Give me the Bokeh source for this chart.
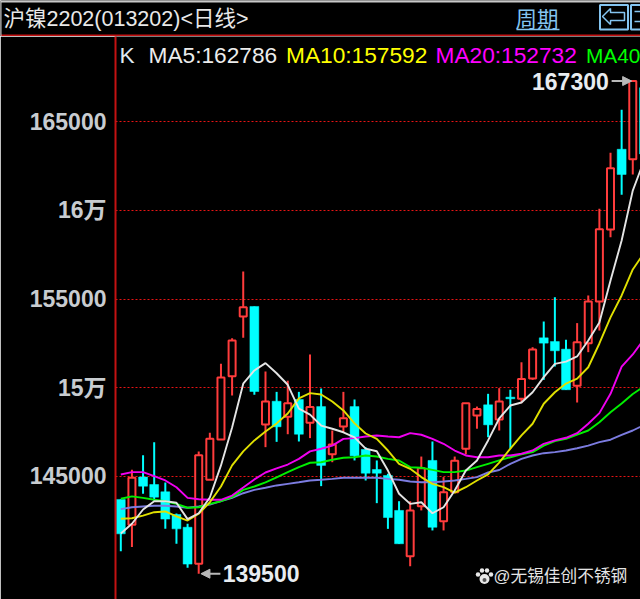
from bokeh.plotting import figure
from bokeh.layouts import column
from bokeh.models import Label, FixedTicker, Span, Arrow, NormalHead, BasicTickFormatter
from bokeh.core.properties import value
from bokeh.embed import file_html
from bokeh.resources import INLINE

# ---- data ----
title_text = "沪镍2202(013202)<日线>"
period_text = "周期"
watermark = "@无锡佳创不锈钢"
tick_values = [145000, 150000, 155000, 160000, 165000]
tick_labels = {150000: "15万", 160000: "16万"}

up = [0,1,0,0,0,0,0,1,1,1,1,1,0,1,0,1,0,1,0,1,1,0,0,0,0,0,1,1,0,1,1,1,1,0,1,0,1,1,0,0,0,1,1,1,1,0,1,0]
highs = [143690,145360,146190,146920,144650,142900,142320,146400,147450,151340,152790,156550,154580,150910,149760,150390,
         149760,151870,149950,147580,149760,149330,146640,145890,145140,143590,143590,146110,146960,144950,146110,149120,
         148930,149650,149970,149880,151430,152280,153730,155100,152700,153640,155200,160090,163250,165680,167300,167050]
body_tops = [143690,144910,144950,144530,144120,142840,142120,146190,147110,150570,152660,154540,154580,149220,149230,149120,
             149330,148900,148930,146790,148270,148930,146510,145380,145040,143070,143070,145450,145890,144100,145870,149120,
             148800,149030,149220,149460,150480,152150,152810,152600,152170,152560,154860,158940,162380,163450,167300,166920]
body_bottoms = [141750,142260,144440,143820,142580,142030,140040,140060,144800,147070,150640,154010,149780,147920,147790,148350,
                147370,148020,145610,146240,147810,146150,145170,145170,142670,141190,140490,143310,142120,142460,144100,146550,
                148430,147900,148200,149370,149370,150510,152510,152080,149880,150100,152510,154860,158920,162030,162890,163190]
lows = [140770,141000,144010,143630,142030,141190,139830,139500,144800,147070,149560,152810,149600,146640,146940,147370,
        146960,147150,144440,145790,147450,145890,144760,143480,142030,141190,139920,143070,141940,141940,144100,146230,
        147680,147200,147580,146560,149120,150440,150440,151190,149880,149160,152000,153220,158490,160880,162030,162250]

ma5 = [141770,142320,143120,143590,143590,143500,142580,142910,143800,145610,147750,150220,150970,151380,150810,150160,
       148810,148480,147860,147680,147480,147190,146560,146410,145320,144010,143440,143530,142910,143250,144190,145320,
       145890,147020,148260,148990,149160,149740,150590,151340,151470,151760,152660,153680,156050,158300,161120,162786]
ma10 = [142600,142630,142780,142970,143010,142730,142500,142880,143530,144420,145610,146400,147020,147520,147980,148540,
        149390,149690,149610,149220,148710,147980,147410,147110,146450,145700,145420,144950,144570,144380,144070,144380,
        144760,145100,145770,146560,147300,147960,149090,149740,150230,150510,151150,152490,153960,155200,156670,157592]
ma20 = [145100,145230,145230,145000,144760,144380,143780,143700,143670,143670,143910,144360,144820,145210,145440,145660,
        145980,146400,146550,146730,147110,147150,147240,147300,147240,147200,147430,147340,147110,146830,146450,146170,
        146070,146070,146170,146170,146270,146450,146830,147020,147170,147430,147960,148560,149650,151190,151870,152732]
ma40 = [143730,143860,143780,143670,143590,143440,143220,143250,143440,143590,143820,144230,144420,144650,144930,145230,
        145510,145760,145790,145930,146040,146070,146170,146110,145980,145890,145510,145480,145360,145230,145230,145320,
        145510,145700,145890,146070,146230,146360,146730,146980,147110,147350,147580,148050,148610,149100,149640,150060]
ma60 = [143140,143250,143290,143330,143330,143290,143220,143290,143400,143590,143780,144040,144230,144350,144480,144570,
        144660,144760,144800,144850,144910,144910,144910,144910,144850,144800,144700,144660,144660,144700,144760,144850,
        144950,145210,145350,145700,145980,146170,146300,146360,146450,146580,146730,146920,147060,147330,147580,147890]

legend_items = [("K", "#dfe8f0", 119, "22.7px"), ("MA5:162786", "#ececec", 148, "22.7px"),
                ("MA10:157592", "#ffff00", 285.5, "22.7px"), ("MA20:152732", "#ff00ff", 435, "22.7px"),
                ("MA40", "#00ff00", 585.5, "20.8px")]
peak_label = "167300"
trough_label = "139500"

# ---- styling ----
RED = "#ff3c3c"
CYAN = "#00ffff"
FRAME_RED = "#c41212"
BLUE = "#84c4f0"
LATIN_CJK = "Liberation Sans, Noto Sans CJK SC"

PX0, PX_STEP = 120.3, 11.13
PRICE_AT_0, PRICE_PER_PX = 171845.0, 56.43


def X(px):
    return (px - PX0) / PX_STEP


def Y(py):
    return PRICE_AT_0 - PRICE_PER_PX * py


HEADER_H = 36
W, H = 640, 599

# ---- header strip ----
header = figure(width=W, height=HEADER_H, x_range=(0, W), y_range=(HEADER_H, 0),
                toolbar_location=None, output_backend="svg", min_border=0, frame_align=False,
                background_fill_color="black", border_fill_color="black", outline_line_color=None)
header.axis.visible = False
header.grid.visible = False
header.segment([0], [1], [W], [1], line_color="#c8c8c8", line_width=2)
header.segment([0], [35], [W], [35], line_color=FRAME_RED, line_width=2)
header.segment([0.5], [0], [0.5], [HEADER_H], line_color="#c8c8c8", line_width=1)
header.text([3], [18.5], text=[title_text], text_font=value(LATIN_CJK), text_font_size="21.5px",
            text_color="#e8e8e8", text_baseline="middle")
header.text([515], [17], text=[period_text], text_font=value("Noto Sans CJK SC"), text_font_size="21.5px",
            text_color=BLUE, text_baseline="middle")
header.segment([516], [29], [559], [29], line_color=BLUE, line_width=1.5)
header.quad(left=[599.5], right=[627.5], top=[4.5], bottom=[29], fill_color=None, line_color=BLUE, line_width=2)
header.quad(left=[630.5], right=[660], top=[4.5], bottom=[29], fill_color=None, line_color=BLUE, line_width=2)
header.patch([602, 610, 610, 624, 624, 610, 610], [16, 8, 12, 12, 20, 20, 24],
             fill_color=None, line_color=BLUE, line_width=1.5)
header.segment([634], [11], [640], [11], line_color=BLUE, line_width=1.5)
header.segment([634], [21], [640], [21], line_color=BLUE, line_width=1.5)

# ---- main chart ----
LEFT = 115
p = figure(width=W, height=H - HEADER_H, x_range=(X(LEFT), X(W)), y_range=(Y(H), Y(HEADER_H)),
           toolbar_location=None, output_backend="svg", frame_align=False,
           min_border_left=LEFT, min_border_right=0, min_border_top=0, min_border_bottom=0,
           background_fill_color="black", border_fill_color="black", outline_line_color=None)
p.xaxis.visible = False
p.xgrid.visible = False
ax = p.yaxis[0]
ax.ticker = FixedTicker(ticks=tick_values)
ax.formatter = BasicTickFormatter(use_scientific=False)
ax.major_label_overrides = tick_labels
ax.major_label_text_font = LATIN_CJK
ax.major_label_text_font_size = "23px"
ax.major_label_text_font_style = "bold"
ax.major_label_text_color = "#c8ccd0"
ax.major_label_standoff = 9
ax.major_tick_line_color = None
ax.major_tick_out = 0
ax.minor_tick_line_color = None
ax.axis_line_color = FRAME_RED
ax.axis_line_width = 2
p.ygrid.ticker = FixedTicker(ticks=tick_values)
p.ygrid.grid_line_color = "#e81414"
p.ygrid.grid_line_dash = "2 2"
p.ygrid.grid_line_width = 1.2

idx = list(range(len(highs)))
reds = [i for i in idx if up[i]]
cyans = [i for i in idx if not up[i]]


def pick(vals, which):
    return [vals[i] for i in which]


for which, colour in ((reds, RED), (cyans, CYAN)):
    p.segment(which, pick(highs, which), which, pick(lows, which), line_color=colour, line_width=2)
p.vbar(x=cyans, width=0.8, top=pick(body_tops, cyans), bottom=pick(body_bottoms, cyans),
       fill_color=CYAN, line_color=CYAN, line_width=0.5)
p.vbar(x=reds, width=0.63, top=pick(body_tops, reds), bottom=pick(body_bottoms, reds),
       fill_color="black", line_color=RED, line_width=2)

for series, colour in ((ma60, "#7c7ce0"), (ma40, "#00f000"), (ma20, "#f000f0"), (ma10, "#e0e000"), (ma5, "#e4e4e4")):
    p.line(idx, series, line_color=colour, line_width=1.9)

# left edge hairline
p.add_layout(Span(location=-LEFT + 0.5, location_units="screen", dimension="height",
                  line_color="#c8c8c8", line_width=1))

# legend row
for txt, colour, lx, fs in legend_items:
    p.add_layout(Label(x=X(lx), y=Y(54.5), text=txt, text_color=colour, text_font="Liberation Sans",
                       text_font_size=fs, text_baseline="middle", text_align="left"))

# extreme markers
ipeak = highs.index(max(highs))
itrough = lows.index(min(lows))
grey = "#b8b8b8"
p.add_layout(Label(x=ipeak, y=max(highs), x_offset=-24, text=peak_label, text_color="#e8ecf0",
                   text_font="Liberation Sans", text_font_style="bold", text_font_size="23px",
                   text_align="right", text_baseline="middle"))
p.add_layout(Arrow(x_start=ipeak - 1.9, x_end=ipeak - 0.1, y_start=max(highs), y_end=max(highs),
                   line_color=grey, line_width=2,
                   end=NormalHead(size=9, fill_color=grey, line_color=grey)))
p.add_layout(Label(x=itrough, y=min(lows), x_offset=24, text=trough_label, text_color="#e8ecf0",
                   text_font="Liberation Sans", text_font_style="bold", text_font_size="23px",
                   text_align="left", text_baseline="middle"))
p.add_layout(Arrow(x_start=itrough + 1.95, x_end=itrough + 0.2, y_start=min(lows), y_end=min(lows),
                   line_color=grey, line_width=2,
                   end=NormalHead(size=9, fill_color=grey, line_color=grey)))

# watermark
p.add_layout(Label(x=X(493), y=Y(575.5), text=watermark, text_color="#e4e4e4", text_font=LATIN_CJK,
                   text_font_size="16.7px", text_baseline="middle"))
p.scatter([X(px) for px in (477.5, 481.5, 486.5, 490.5)], [Y(py) for py in (574, 570, 570, 574)],
          marker="circle", size=4.5, fill_color="#e8e8e8", line_color=None)
p.scatter([X(484)], [Y(578.5)], marker="circle", size=10, fill_color="#e8e8e8", line_color=None)
p.scatter([X(484)], [Y(579.5)], marker="circle", size=4, fill_color="#555555", line_color=None)

root = column(header, p, spacing=0, styles={"position": "absolute", "left": "0px", "top": "0px"})
open("out.html", "w").write(file_html(root, INLINE))
